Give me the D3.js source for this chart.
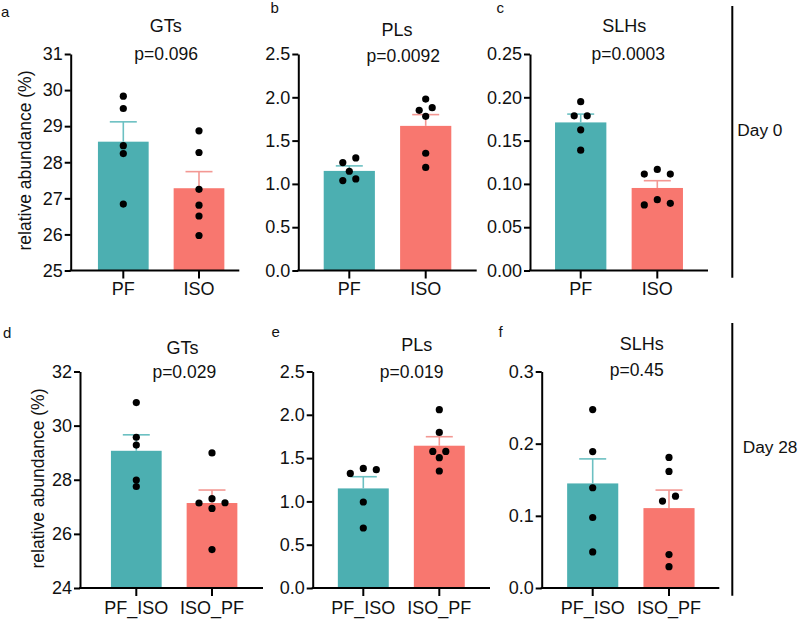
<!DOCTYPE html>
<html><head><meta charset="utf-8">
<script src="https://cdn.jsdelivr.net/npm/d3@7"></script>
<style>body{margin:0;background:#fff}svg{display:block}text{font-family:"Liberation Sans",Arial,sans-serif;fill:#111}</style>
</head><body>
<svg id="c" width="800" height="621"></svg>
<script>
// ---------- data ----------
const panelLetters = ["a","b","c","d","e","f"];
const titles = ["GTs","PLs","SLHs","GTs","PLs","SLHs"];
const pTexts = ["p=0.096","p=0.0092","p=0.0003","p=0.029","p=0.019","p=0.45"];
const catsDay0 = ["PF","ISO"];
const catsDay28 = ["PF_ISO","ISO_PF"];
const dayLabels = ["Day 0","Day 28"];
const yLabel = "relative abundance (%)";

const meanA = [28.57, 27.28], semA = [0.55, 0.46];
const meanB = [1.15, 1.67],   semB = [0.058, 0.13];
const meanC = [0.171, 0.0953], semC = [0.0096, 0.0084];
const meanD = [29.07, 27.14], semD = [0.59, 0.48];
const meanE = [1.15, 1.643],  semE = [0.135, 0.104];
const meanF = [0.1449, 0.1107], semF = [0.034, 0.025];

const ptsA = [[29.83,29.49,28.46,28.24,26.84],[28.87,28.27,27.25,26.81,26.51,25.97]];
const ptsB = [[1.30,1.246,1.146,1.057,1.038],[1.98,1.88,1.85,1.78,1.354,1.19]];
const ptsC = [[0.195,0.1786,0.1786,0.1624,0.139],[0.1167,0.1114,0.1114,0.0818,0.0776,0.0757]];
const ptsD = [[30.85,29.57,29.28,27.99,27.75],[28.99,27.30,27.15,27.14,26.94,25.42]];
const ptsE = [[1.381,1.366,1.323,0.993,0.693],[2.059,1.797,1.577,1.577,1.505,1.351]];
const ptsF = [[0.2472,0.189,0.1389,0.0977,0.05],[0.181,0.1616,0.1273,0.1204,0.0463,0.0296]];

const ticksA = [25,26,27,28,29,30,31];
const ticksB = [0,0.5,1.0,1.5,2.0,2.5];
const ticksC = [0,0.05,0.10,0.15,0.20,0.25];
const ticksD = [24,26,28,30,32];
const ticksE = [0,0.5,1.0,1.5,2.0,2.5];
const ticksF = [0,0.1,0.2,0.3];
const tickDecimals = [0,1,2,0,1,1];

// ---------- layout / style ----------
const barColors = ["#4cafb1","#f8776f"];
const errColors = ["#6cc0c2","#f39893"];
const layout = [
  {ax:70.7, c1:123.3, c2:199,   xEnd:239.3, yTop:54,    yBot:270.5},
  {ax:298.3,c1:349.3, c2:425.7, xEnd:476.7, yTop:54,    yBot:270.5},
  {ax:530,  c1:580.7, c2:657.3, xEnd:708,   yTop:54,    yBot:270.5},
  {ax:80,   c1:136.3, c2:212,   xEnd:263,   yTop:371.5, yBot:588},
  {ax:312.7,c1:363.3, c2:439.3, xEnd:490,   yTop:371.5, yBot:588},
  {ax:541.7,c1:592.7, c2:669,   xEnd:719.3, yTop:371.5, yBot:588}
];
const titlePos = [[165.7,32.4],[397,35.6],[624.2,31.9],[182.5,354.2],[416.7,351.4],[641.7,350.4]];
const pPos = [[166.2,60.2],[403.3,61.6],[628.3,60.4],[184.3,377.6],[411.7,377.6],[636.7,376.1]];
const letterPos = [[1,16.7],[270.5,13.3],[496.5,13.3],[3,338.3],[271.5,337.3],[498.5,336.7]];

const means = [meanA,meanB,meanC,meanD,meanE,meanF];
const sems = [semA,semB,semC,semD,semE,semF];
const pts = [ptsA,ptsB,ptsC,ptsD,ptsE,ptsF];
const ticks = [ticksA,ticksB,ticksC,ticksD,ticksE,ticksF];

const svg = d3.select("#c");
const FS = 18;

function swarm(vals, y, cx){
  const ys = vals.map(v=>({v, py:y(v)})).sort((a,b)=>a.py-b.py);
  const out=[]; let i=0; const T=6, s=13;
  while(i<ys.length){
    const row=[ys[i]]; let j=i+1;
    while(j<ys.length && ys[j].py-ys[i].py<=T){row.push(ys[j]); j++;}
    const n=row.length;
    let offs=[];
    if(n%2===1){offs=[0]; for(let k=1;offs.length<n;k++){offs.push(k*s); if(offs.length<n) offs.push(-k*s);} }
    else {for(let k=0;offs.length<n;k++){offs.push((k+0.5)*s); offs.push(-(k+0.5)*s);} }
    row.forEach((r,k)=>out.push({x:cx+offs[k], y:r.py}));
    i=j;
  }
  return out;
}

layout.forEach((L,pi)=>{
  const cats = pi<3 ? catsDay0 : catsDay28;
  const tk = ticks[pi];
  const y = d3.scaleLinear().domain([tk[0], tk[tk.length-1]]).range([L.yBot, L.yTop]);
  const step = L.c2 - L.c1;
  const x = d3.scaleBand().domain(cats).range([L.c1-step/2, L.c2+step/2]).paddingInner(0.33).paddingOuter(0.165);
  const g = svg.append("g");

  // bars
  g.selectAll("rect.bar").data(cats).join("rect")
    .attr("x", d=>x(d)).attr("width", x.bandwidth())
    .attr("y", (d,i)=>y(means[pi][i])).attr("height",(d,i)=>L.yBot - y(means[pi][i]))
    .attr("fill",(d,i)=>barColors[i]);
  // error bars
  cats.forEach((c,i)=>{
    const cx = x(c)+x.bandwidth()/2;
    const top = y(means[pi][i]+sems[pi][i]);
    g.append("line").attr("x1",cx).attr("x2",cx).attr("y1",y(means[pi][i])).attr("y2",top)
      .attr("stroke",errColors[i]).attr("stroke-width",1.6);
    g.append("line").attr("x1",cx-13.5).attr("x2",cx+13.5).attr("y1",top).attr("y2",top)
      .attr("stroke",errColors[i]).attr("stroke-width",1.6);
    const sw = swarm(pts[pi][i], y, cx);
    g.selectAll(null).data(sw).join("circle").attr("cx",d=>d.x).attr("cy",d=>d.y).attr("r",3.6).attr("fill","#000");
  });

  // y axis
  const fmt = d3.format("."+tickDecimals[pi]+"f");
  const ya = g.append("g").attr("transform",`translate(${L.ax},0)`)
    .call(d3.axisLeft(y).tickValues(tk).tickFormat(fmt).tickSize(6).tickSizeOuter(0).tickPadding(2));
  ya.select(".domain").attr("stroke","#000").attr("stroke-width",2);
  ya.selectAll(".tick line").attr("stroke","#000").attr("stroke-width",2);
  ya.selectAll(".tick text").attr("font-size",FS).attr("font-family","Liberation Sans, Arial, sans-serif").attr("fill","#111");

  // x axis
  g.append("line").attr("x1",L.ax-1).attr("x2",L.xEnd).attr("y1",L.yBot).attr("y2",L.yBot)
    .attr("stroke","#000").attr("stroke-width",2);
  const xa = g.append("g").attr("transform",`translate(0,${L.yBot})`)
    .call(d3.axisBottom(x).tickSize(8).tickPadding(pi<3?4:5));
  xa.select(".domain").remove();
  xa.selectAll(".tick line").attr("stroke","#000").attr("stroke-width",2);
  xa.selectAll(".tick text").attr("font-size",FS).attr("font-family","Liberation Sans, Arial, sans-serif").attr("fill","#111");

  // titles
  svg.append("text").attr("x",titlePos[pi][0]).attr("y",titlePos[pi][1]).attr("text-anchor","middle").attr("font-size",FS).text(titles[pi]);
  svg.append("text").attr("x",pPos[pi][0]).attr("y",pPos[pi][1]).attr("text-anchor","middle").attr("font-size",17.5).text(pTexts[pi]);
  svg.append("text").attr("x",letterPos[pi][0]).attr("y",letterPos[pi][1]).attr("font-size",15).text(panelLetters[pi]);
});

// y labels
[[25,160.5],[38.3,478.5]].forEach(p=>{
  svg.append("text").attr("transform",`translate(${p[0]+6},${p[1]}) rotate(-90)`)
    .attr("text-anchor","middle").attr("font-size",17.5).text(yLabel);
});

// separators & day labels
[[6,277.7,135.7],[323,595.7,453.3]].forEach((s,i)=>{
  svg.append("line").attr("x1",732.3).attr("x2",732.3).attr("y1",s[0]).attr("y2",s[1]).attr("stroke","#000").attr("stroke-width",2);
  svg.append("text").attr("x", i===0?737.3:742.7).attr("y",s[2]).attr("font-size",17.3).text(dayLabels[i]);
});
</script>
</body></html>
